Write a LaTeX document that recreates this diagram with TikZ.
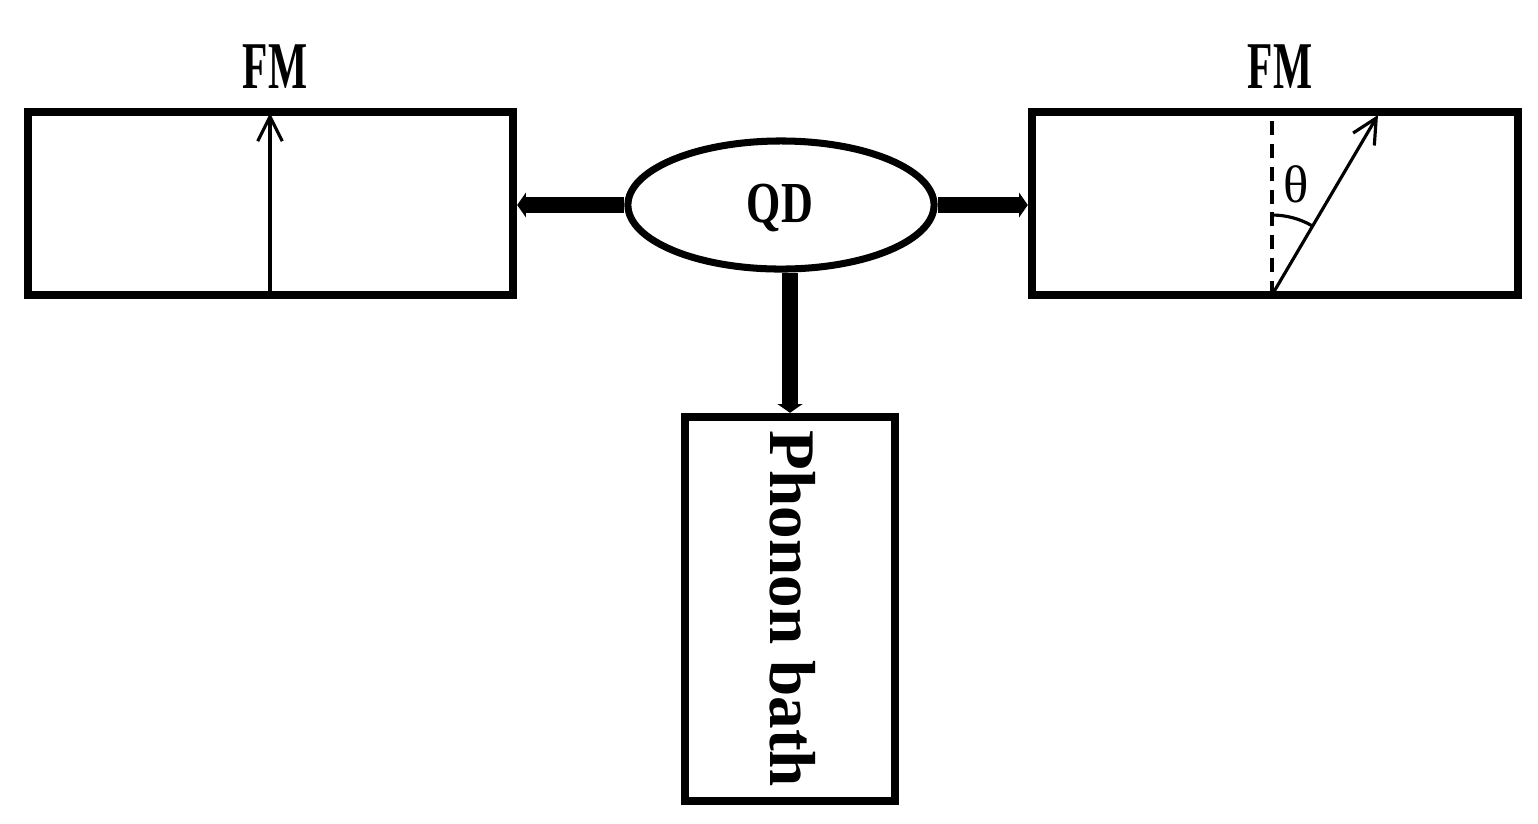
\documentclass[tikz,border=0pt]{standalone}
\usepackage{fontspec}
\setmainfont{Liberation Serif}
\usetikzlibrary{arrows.meta,shapes.geometric}
\tikzset{
  boxstyle/.style={draw, line width=2.3pt, rectangle, inner sep=0pt},
  conn/.style={line width=4.6pt, -{Triangle[length=2.5pt,width=7pt]}},
  thin/.style={line width=0.9pt},
  lbl/.style={font=\bfseries\fontsize{19}{19}\selectfont, inner sep=0pt}
}
\begin{document}
\begin{tikzpicture}[x=0.01cm, y=-0.01cm]
\useasboundingbox (0,0) rectangle (1538,823);
% boxes
\node[boxstyle, minimum width=4.85cm, minimum height=1.83cm] (lbox) at (270.5,203.5) {};
\node[boxstyle, minimum width=4.86cm, minimum height=1.83cm] (rbox) at (1275,203.5) {};
\node[boxstyle, minimum width=2.10cm, minimum height=3.84cm] (bath) at (790,609) {};
\node[draw, ellipse, line width=2pt, minimum width=3.06cm, minimum height=1.28cm, inner sep=0pt] (qd) at (781,205) {};
% labels
\node[lbl] (fml) at (275,67) {\scalebox{0.62}[1]{FM}};
\node[lbl] (fmr) at (1280,67) {\scalebox{0.62}[1]{FM}};
\node[font=\bfseries\fontsize{16.5}{16.5}\selectfont, inner sep=0pt] (qdt) at (780,208) {\scalebox{0.76}[1]{QD}};
\node[font=\bfseries\fontsize{18.5}{18.5}\selectfont, rotate=-90, anchor=base, inner sep=0pt] (pb) at (770,609) {Phonon bath};
% connectors
\draw[conn] (qd.west) -- (qd.west -| lbox.east);
\draw[conn] (qd.east) -- (qd.east -| rbox.west);
\draw[conn] (qd.south -| bath.north) -- (bath.north);
% left moment
\coordinate (la) at (270,295);
\coordinate (lb) at (270,113);
\draw[thin, -{Straight Barb[length=7pt,width=7pt]}] (la) -- (lb);
% right moment
\coordinate (ra) at (1272,295);
\coordinate (rt) at (1272,113);
\coordinate (rb) at (1378,115);
\draw[line width=1.1pt, dashed, dash pattern=on 4pt off 2.5pt] (ra) -- (rt);
\draw[thin, -{Straight Barb[length=7pt,width=7pt]}] (ra) -- (rb);
\draw[thin] (1272,215) arc[start angle=-90, end angle=-60, radius=80];
\node[font=\fontsize{15}{15}\selectfont, inner sep=0pt] (th) at (1296,184) {θ};
\end{tikzpicture}
\end{document}
